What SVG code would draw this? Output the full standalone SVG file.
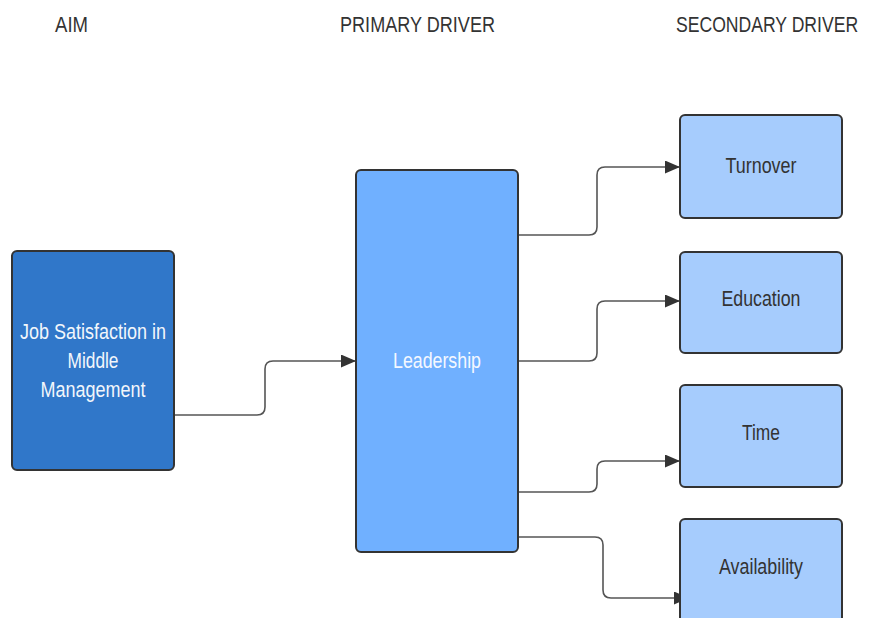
<svg xmlns="http://www.w3.org/2000/svg" width="869" height="618" viewBox="0 0 869 618">
<style>
  .hdr { font-family: "Liberation Sans", Arial, sans-serif; font-size: 22px; fill: #333; }
  .lbl { font-family: "Liberation Sans", Arial, sans-serif; font-size: 22px; text-anchor: middle; }
  .box { stroke: #333; stroke-width: 2; }
  .conn { fill: none; stroke: #555; stroke-width: 1.6; marker-end: url(#arr); }
</style>
<defs>
  <marker id="arr" viewBox="0 0 15 13" refX="15" refY="6.5" markerWidth="15" markerHeight="13" markerUnits="userSpaceOnUse" orient="auto">
    <path d="M0,0 L15,6.5 L0,13 Z" fill="#333"/>
  </marker>
</defs>
<rect width="869" height="618" fill="#fff"/>
<g id="headers">
  <text class="hdr" x="55" y="32" textLength="33" lengthAdjust="spacingAndGlyphs">AIM</text>
  <text class="hdr" x="340" y="32" textLength="155" lengthAdjust="spacingAndGlyphs">PRIMARY DRIVER</text>
  <text class="hdr" transform="translate(676,32) scale(0.8,1)" x="0" y="0">SECONDARY DRIVER</text>
</g>
<g id="connectors">
  <path class="conn" d="M174,415 H257 Q265,415 265,407 V369 Q265,361 273,361 H356"/>
  <path class="conn" d="M518,235 H589 Q597,235 597,227 V175 Q597,167 605,167 H680"/>
  <path class="conn" d="M518,361 H589 Q597,361 597,353 V309 Q597,301 605,301 H680"/>
  <path class="conn" d="M518,492 H589 Q597,492 597,484 V469 Q597,461 605,461 H680"/>
  <path class="conn" d="M518,537 H595 Q603,537 603,545 V590 Q603,598 611,598 H689"/>
</g>
<g id="aim">
  <rect class="box" x="12" y="251" width="162" height="219" rx="5" fill="#3077c9"/>
  <text class="lbl" fill="#f2f6fb" x="93" y="339" textLength="146" lengthAdjust="spacingAndGlyphs">Job Satisfaction in</text>
  <text class="lbl" fill="#f2f6fb" x="93" y="368" textLength="51" lengthAdjust="spacingAndGlyphs">Middle</text>
  <text class="lbl" fill="#f2f6fb" x="93" y="397" textLength="105" lengthAdjust="spacingAndGlyphs">Management</text>
</g>
<g id="leadership">
  <rect class="box" x="356" y="170" width="162" height="382" rx="5" fill="#70b0ff"/>
  <text class="lbl" fill="#f4f8ff" x="437" y="368" textLength="88" lengthAdjust="spacingAndGlyphs">Leadership</text>
</g>
<g id="turnover">
  <rect class="box" x="680" y="115" width="162" height="103" rx="5" fill="#a6ccfd"/>
  <text class="lbl" fill="#333" x="761" y="173" textLength="71" lengthAdjust="spacingAndGlyphs">Turnover</text>
</g>
<g id="education">
  <rect class="box" x="680" y="252" width="162" height="101" rx="5" fill="#a6ccfd"/>
  <text class="lbl" fill="#333" x="761" y="306" textLength="79" lengthAdjust="spacingAndGlyphs">Education</text>
</g>
<g id="time">
  <rect class="box" x="680" y="385" width="162" height="102" rx="5" fill="#a6ccfd"/>
  <text class="lbl" fill="#333" x="761" y="440" textLength="38" lengthAdjust="spacingAndGlyphs">Time</text>
</g>
<g id="availability">
  <rect class="box" x="680" y="519" width="162" height="110" rx="5" fill="#a6ccfd"/>
  <text class="lbl" fill="#333" x="761" y="574" textLength="84" lengthAdjust="spacingAndGlyphs">Availability</text>
</g>
</svg>
